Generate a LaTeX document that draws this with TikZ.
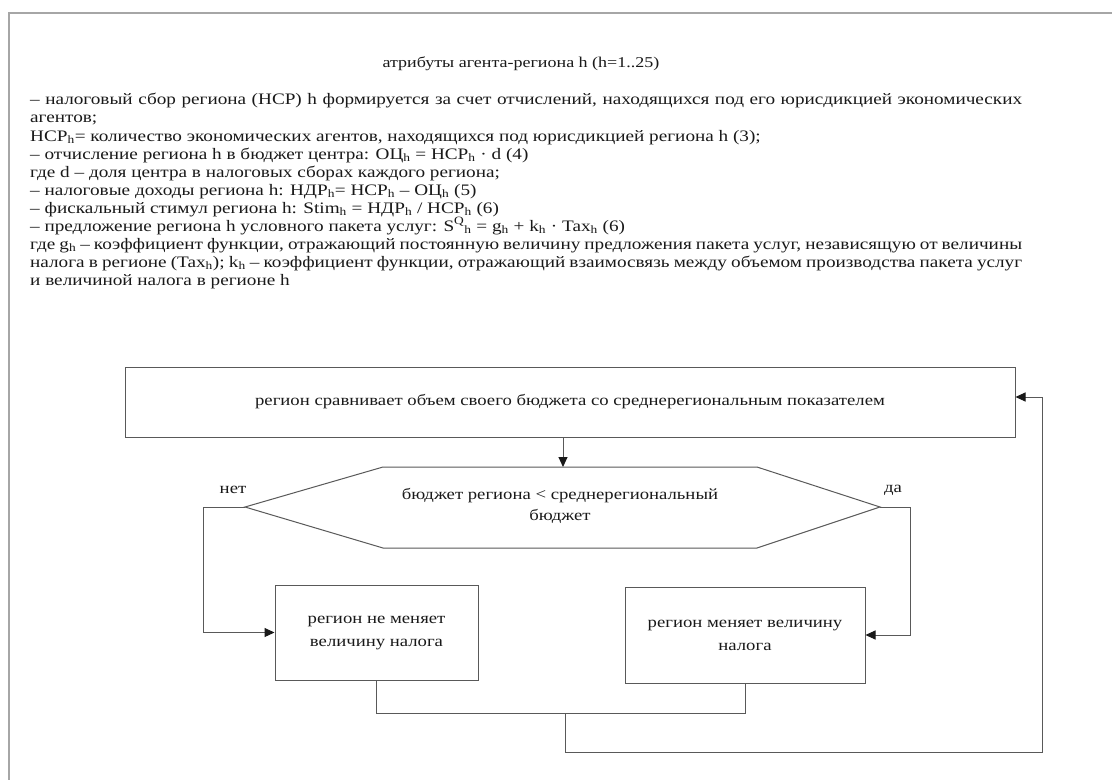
\documentclass[tikz,border=0pt]{standalone}
\usepackage{fontspec}
\setmainfont[FakeStretch=1.2]{Liberation Serif}
\usetikzlibrary{arrows.meta}
\begin{document}
\begin{tikzpicture}[x=1pt,y=-1pt,
  txt/.style={anchor=base west,inner sep=0pt,text=black!90,font=\fontsize{16}{18}\selectfont},
  lbl/.style={inner sep=0pt,text=black!90,font=\fontsize{15.6}{21}\selectfont},
  box/.style={draw=black!65,line width=1pt,inner sep=2pt,align=center,text=black!90,font=\fontsize{15.6}{23}\selectfont},
  conn/.style={draw=black!65,line width=1pt},
  arr/.style={conn,-{Triangle[length=10pt,width=9pt,color=black!90]}}]
\useasboundingbox (0,0) rectangle (1112,780);
\fill[white] (0,0) rectangle (1112,780);
% outer frame
\draw[black!35,line width=2pt] (1112,13) -- (9,13) -- (9,780);
% title
\node[lbl,anchor=base,font=\fontsize{15}{20}\selectfont] (title) at (521,67) {атрибуты агента-региона h (h=1..25)};
% text lines
\node[txt] (l1) at (30,104) {\makebox[992pt][s]{– налоговый сбор региона (НСР) h формируется за счет отчислений, находящихся под его юрисдикцией экономических}};
\node[txt] (l2) at (30,122) {агентов;};
\node[txt] (l3) at (30,141) {НСР\textsubscript{h}= количество экономических агентов, находящихся под юрисдикцией региона h (3);};
\node[txt] (l4) at (30,159) {– отчисление региона h в бюджет центра: ОЦ\textsubscript{h} = НСР\textsubscript{h} · d (4)};
\node[txt] (l5) at (30,177) {где d – доля центра в налоговых сборах каждого региона;};
\node[txt] (l6) at (30,195) {– налоговые доходы региона h: НДР\textsubscript{h}= НСР\textsubscript{h} – ОЦ\textsubscript{h} (5)};
\node[txt] (l7) at (30,213) {– фискальный стимул региона h: Stim\textsubscript{h} = НДР\textsubscript{h} / НСР\textsubscript{h} (6)};
\node[txt] (l8) at (30,231) {– предложение региона h условного пакета услуг: S\textsuperscript{Q}\textsubscript{h} = g\textsubscript{h} + k\textsubscript{h} · Tax\textsubscript{h} (6)};
\node[txt] (l9) at (30,249) {\makebox[992pt][s]{где g\textsubscript{h} – коэффициент функции, отражающий постоянную величину предложения пакета услуг, независящую от величины}};
\node[txt] (l10) at (30,267) {\makebox[992pt][s]{налога в регионе (Tax\textsubscript{h}); k\textsubscript{h} – коэффициент функции, отражающий взаимосвязь между объемом производства пакета услуг}};
\node[txt] (l11) at (30,285) {и величиной налога в регионе h};
% diagram
\node[box,minimum width=890pt,minimum height=70pt] (top) at (570,402) {регион сравнивает объем своего бюджета со среднерегиональным показателем};
\coordinate (hl) at (245,507);
\coordinate (hr) at (880,507);
\coordinate (hext) at (563,467);
\draw[conn] (hl) -- (383,467) -- (757,467) -- (hr) -- (757,548) -- (383,548) -- cycle;
\node[lbl,align=center] (hex) at (560,506) {бюджет региона < среднерегиональный\\бюджет};
\node[box,minimum width=203pt,minimum height=95pt] (nochg) at (376.5,632.5) {регион не меняет\\величину налога};
\node[box,minimum width=240pt,minimum height=96pt] (chg) at (745,635) {регион меняет величину\\налога};
\node[lbl] (no) at (233,490) {нет};
\node[lbl] (yes) at (893,490) {да};
\coordinate (join) at (565,713);
\coordinate (loop) at (1042,397);
\draw[arr] (top.south -| hext) -- (hext);
\draw[arr] (hl) -- ++(-42,0) |- (nochg.west);
\draw[arr] (hr) -- ++(30,0) |- (chg.east);
\draw[conn] (nochg.south) |- (join) -| (chg.south);
\draw[arr] (join) -- ++(0,39) -| (loop) -- (loop -| top.east);
\end{tikzpicture}
\end{document}
